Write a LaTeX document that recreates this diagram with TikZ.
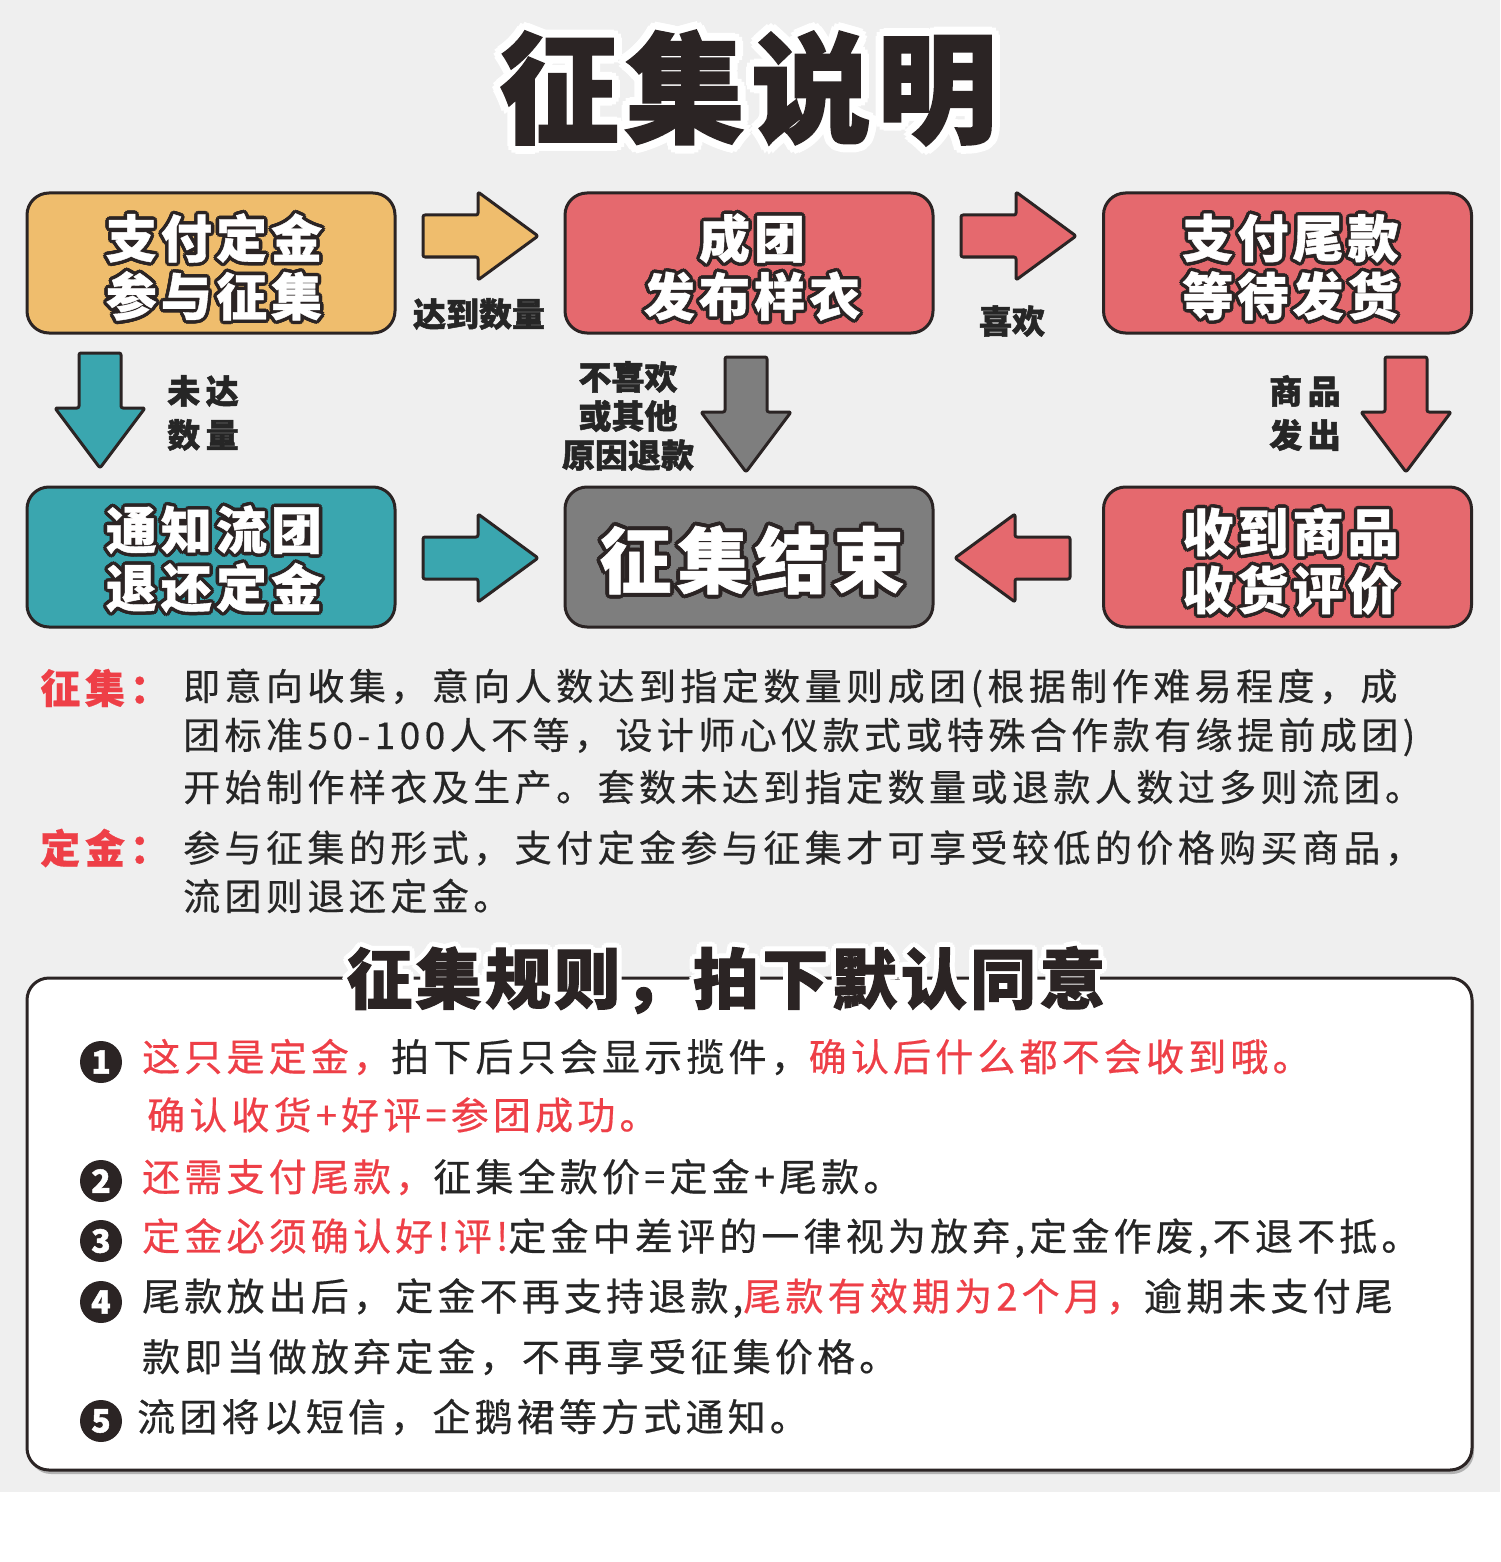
\documentclass[tikz,border=0pt]{standalone}
\usepackage{fontspec}
\setmainfont{Noto Sans CJK SC}
\newfontfamily\cjk{Noto Sans CJK SC}[BoldFeatures={FakeBold=1.5}]
\newfontfamily\cjktitle{Noto Sans CJK SC}[LetterSpace=5, BoldFeatures={FakeBold=1.5}]
\newfontfamily\cjkbox{Noto Sans CJK SC}[LetterSpace=8, BoldFeatures={FakeBold=0.8}]
\newfontfamily\cjkbody{Noto Sans CJK SC}[LetterSpace=12, FakeBold=0.5]
\newfontfamily\cjkrule{Noto Sans CJK SC}[LetterSpace=11, FakeBold=0.5]
\usetikzlibrary{calc}
\definecolor{bg}{HTML}{EFEFEF}
\definecolor{ink}{HTML}{2B2424}
\definecolor{boxor}{HTML}{EFBD6D}
\definecolor{boxred}{HTML}{E5696E}
\definecolor{boxteal}{HTML}{3AA6AF}
\definecolor{boxgray}{HTML}{7E7E7E}
\definecolor{txtred}{HTML}{EE3F47}
\definecolor{txt}{HTML}{262626}
% name, position, font, fill colour, outline colour, outline radius, text
\newcommand\olabel[7]{%
  \foreach \oang in {0,30,...,330}{%
    \node[font=#3,text=#5,align=center,inner sep=0] at ($(#2)+(\oang:#6)$) {#7};}
  \node[font=#3,text=#4,align=center,inner sep=0] (#1) at (#2) {#7};
}
\tikzset{
  flowbox/.style={draw=ink, line width=3pt, rounded corners=22pt, minimum width=368pt, minimum height=140pt, inner sep=0},
  blockarrow/.style={draw=ink, line width=3pt, rounded corners=2pt, line join=round},
  lbl/.style={text=txt, align=center, inner sep=0, font=\cjk\bfseries\fontsize{33}{40}\selectfont},
  bodytxt/.style={text=txt, anchor=west, inner sep=0, font=\cjkbody\fontsize{37}{37}\selectfont},
  ruletxt/.style={text=txt, anchor=west, inner sep=0, font=\cjkrule\fontsize{38}{38}\selectfont},
  headtxt/.style={text=txtred, anchor=west, inner sep=0, font=\cjkbody\bfseries\fontsize{40}{40}\selectfont},
  numc/.style={circle, fill=ink, text=white, minimum size=42pt, inner sep=0, font=\cjk\bfseries\fontsize{32}{32}\selectfont},
}
\begin{document}
\begin{tikzpicture}[x=1pt,y=-1pt]
\useasboundingbox (0,0) rectangle (1500,1562);
\fill[bg] (0,0) rectangle (1500,1492);
\fill[white] (0,1492) rectangle (1500,1562);

% title
\olabel{title}{748,88}{\cjktitle\bfseries\fontsize{120}{120}\selectfont}{ink}{white}{8}{征集说明}

% boxes
\node[flowbox, fill=boxor] (b1) at (211,263) {};
\node[flowbox, fill=boxred] (b2) at (749,263) {};
\node[flowbox, fill=boxred] (b3) at (1287.5,263) {};
\node[flowbox, fill=boxteal] (b4) at (211,557) {};
\node[flowbox, fill=boxgray] (b5) at (749,557) {};
\node[flowbox, fill=boxred] (b6) at (1287.5,557) {};

\def\boxfont{\cjkbox\bfseries\fontsize{51}{58}\selectfont}
\olabel{t1}{214,267}{\boxfont}{white}{ink}{3.5}{支付定金\\参与征集}
\olabel{t2}{752,267}{\boxfont}{white}{ink}{3.5}{成团\\发布样衣}
\olabel{t3}{1290.5,267}{\boxfont}{white}{ink}{3.5}{支付尾款\\等待发货}
\olabel{t4}{214,559}{\boxfont}{white}{ink}{3.5}{通知流团\\退还定金}
\olabel{t5}{752,560}{\cjkbox\bfseries\fontsize{72}{72}\selectfont}{white}{ink}{4}{征集结束}
\olabel{t6}{1290.5,561}{\boxfont}{white}{ink}{3.5}{收到商品\\收货评价}

% horizontal block arrows
\draw[blockarrow, fill=boxor, shift={(423,236)}] (0,-21) -- (55,-21) -- (55,-44) -- (115,0) -- (55,44) -- (55,21) -- (0,21) -- cycle;
\draw[blockarrow, fill=boxred, shift={(961,236)}] (0,-21) -- (55,-21) -- (55,-44) -- (115,0) -- (55,44) -- (55,21) -- (0,21) -- cycle;
\draw[blockarrow, fill=boxteal, shift={(423,558)}] (0,-21) -- (55,-21) -- (55,-44) -- (115,0) -- (55,44) -- (55,21) -- (0,21) -- cycle;
\draw[blockarrow, fill=boxred, shift={(1070,558)}, xscale=-1] (0,-21) -- (55,-21) -- (55,-44) -- (115,0) -- (55,44) -- (55,21) -- (0,21) -- cycle;

% vertical block arrows
\draw[blockarrow, fill=boxteal, shift={(100,353)}] (-21,0) -- (-21,55) -- (-45,55) -- (0,115) -- (45,55) -- (21,55) -- (21,0) -- cycle;
\draw[blockarrow, fill=boxgray, shift={(746,357)}] (-21,0) -- (-21,55) -- (-45,55) -- (0,115) -- (45,55) -- (21,55) -- (21,0) -- cycle;
\draw[blockarrow, fill=boxred, shift={(1406,357)}] (-21,0) -- (-21,55) -- (-45,55) -- (0,115) -- (45,55) -- (21,55) -- (21,0) -- cycle;

% arrow labels
\node[lbl] (l1) at (479,314) {达到数量};
\node[lbl] (l2) at (1012,321) {喜欢};
\node[lbl, font=\cjk\bfseries\fontsize{33}{44}\selectfont] (l3) at (203,413) {未\,达\\数\,量};
\node[lbl, font=\cjk\bfseries\fontsize{33}{39}\selectfont] (l4) at (628,416) {不喜欢\\或其他\\原因退款};
\node[lbl, font=\cjk\bfseries\fontsize{33}{44}\selectfont] (l5) at (1305,413) {商\,品\\发\,出};

% explanation text
\node[headtxt] (h1) at (40,688) {征集：};
\node[bodytxt] (p1) at (183,688) {即意向收集，意向人数达到指定数量则成团(根据制作难易程度，成};
\node[bodytxt] (p2) at (183,737) {团标准50-100人不等，设计师心仪款式或特殊合作款有缘提前成团)};
\node[bodytxt] (p3) at (183,787) {开始制作样衣及生产。套数未达到指定数量或退款人数过多则流团。};
\node[headtxt] (h2) at (40,848) {定金：};
\node[bodytxt] (p4) at (183,848) {参与征集的形式，支付定金参与征集才可享受较低的价格购买商品，};
\node[bodytxt] (p5) at (183,896) {流团则退还定金。};

% rules box
\fill[black!30, rounded corners=22pt] (29,982) rectangle (1474,1474);
\draw[line width=3pt, draw=ink, fill=white, rounded corners=22pt] (27,978) rectangle (1472,1470);
\olabel{rtitle}{726,980}{\cjktitle\bfseries\fontsize{66}{66}\selectfont}{ink}{white}{5}{征集规则，拍下默认同意}

\node[numc] (n1) at (101,1062) {1};
\node[numc] (n2) at (101,1181) {2};
\node[numc] (n3) at (101,1241) {3};
\node[numc] (n4) at (101,1302) {4};
\node[numc] (n5) at (101,1421) {5};

\node[ruletxt] (r1) at (142,1057) {{\color{txtred}这只是定金，}拍下后只会显示揽件，{\color{txtred}确认后什么都不会收到哦。}};
\node[ruletxt, text=txtred] (r1b) at (147,1115) {确认收货+好评=参团成功。};
\node[ruletxt] (r2) at (142,1177) {{\color{txtred}还需支付尾款，}征集全款价=定金+尾款。};
\node[ruletxt] (r3) at (142,1238) {{\color{txtred}定金必须确认好!评!}定金中差评的一律视为放弃,定金作废,不退不抵。};
\node[ruletxt] (r4) at (142,1298) {尾款放出后，定金不再支持退款,{\color{txtred}尾款有效期为2个月，}逾期未支付尾};
\node[ruletxt] (r4b) at (142,1357) {款即当做放弃定金，不再享受征集价格。};
\node[ruletxt] (r5) at (137,1417) {流团将以短信，企鹅裙等方式通知。};
\end{tikzpicture}
\end{document}
